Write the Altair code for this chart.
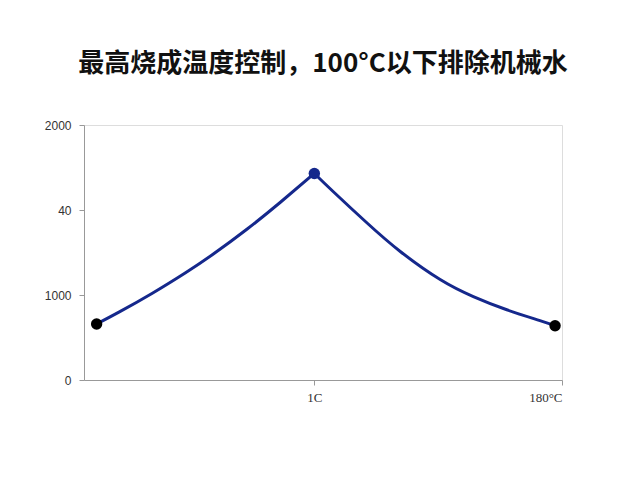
import altair as alt
import pandas as pd

title_text = "最高烧成温度控制，100°C以下排除机械水"

left_x = [0.121, 0.211, 0.346, 0.48, 0.588, 0.729, 0.863, 1.0]
left_y = [0.659, 0.798, 1.021, 1.262, 1.473, 1.776, 2.091, 2.43]
right_x = [1.0, 1.078, 1.213, 1.347, 1.508, 1.642, 1.777, 1.911, 1.972]
right_y = [2.43, 2.212, 1.847, 1.512, 1.182, 0.981, 0.826, 0.699, 0.638]

dot_x = [0.121, 1.0, 1.972]
dot_y = [0.659, 2.43, 0.638]
dot_kind = ["end", "peak", "end"]

y_ticks = [0, 1, 2, 3]
y_labels = ["0", "1000", "40", "2000"]
x_ticks = [1, 2]
x_labels = ["1C", "180°C"]

curve = pd.DataFrame({
    "x": left_x + right_x,
    "y": left_y + right_y,
    "side": ["left"] * len(left_x) + ["right"] * len(right_x),
})
dots = pd.DataFrame({"x": dot_x, "y": dot_y, "kind": dot_kind})

def label_expr(vals, labs):
    parts = " : ".join(f"datum.value == {v} ? '{l}'" for v, l in zip(vals, labs))
    return parts + " : ''"

xs = alt.Scale(domain=[0.07, 2.0], nice=False, zero=False)
ys = alt.Scale(domain=[0, 3], nice=False)

x_axis = alt.Axis(values=x_ticks, labelExpr=label_expr(x_ticks, x_labels), title=None,
                  grid=False, domainColor="#999999", tickColor="#999999", tickSize=5,
                  labelColor="#333333", labelFontSize=13, labelFont="Liberation Serif",
                  labelPadding=6)
y_axis = alt.Axis(values=y_ticks, labelExpr=label_expr(y_ticks, y_labels), title=None,
                  grid=False, domainColor="#999999", tickColor="#999999", tickSize=5,
                  labelColor="#333333", labelFontSize=12, labelFont="Liberation Sans",
                  labelPadding=8)

line = alt.Chart(curve).mark_line(interpolate="natural", color="#15288c", strokeWidth=3).encode(
    x=alt.X("x:Q", scale=xs, axis=x_axis),
    y=alt.Y("y:Q", scale=ys, axis=y_axis),
    detail="side:N",
    order="x:Q",
)

pts = alt.Chart(dots).mark_circle(opacity=1, size=130).encode(
    x=alt.X("x:Q", scale=xs),
    y=alt.Y("y:Q", scale=ys),
    color=alt.Color("kind:N", scale=alt.Scale(domain=["end", "peak"], range=["#000000", "#15288c"]), legend=None),
)

chart = alt.layer(line, pts).properties(
    width=478, height=255,
    title=alt.TitleParams(title_text, font="Noto Sans CJK SC", fontSize=26, fontWeight="bold",
                          color="#111111", offset=42, anchor="middle"),
    autosize=alt.AutoSizeParams(type="none"),
    padding={"left": 76, "top": 117, "right": 60, "bottom": 70},
).configure_view(stroke=None).configure(background="white")

chart.save("out.html", embed_options={"renderer": "svg", "actions": False})
